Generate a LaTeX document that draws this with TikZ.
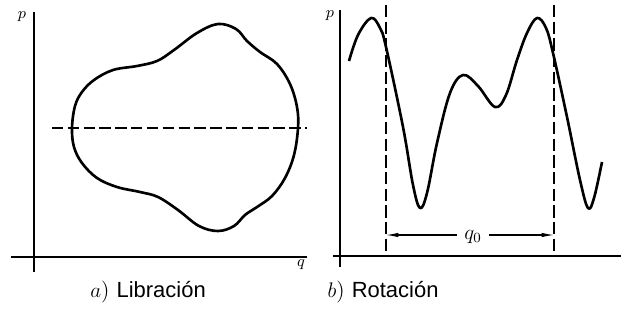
\documentclass[tikz,border=0pt]{standalone}
\usepackage{fontspec}
\newfontfamily\capfont{Liberation Sans}
\usepackage{tikz}
\usetikzlibrary{arrows.meta, positioning}

\begin{document}
\begin{tikzpicture}[x=0.02cm, y=-0.02cm,
    achse/.style={line width=0.8pt},
    kurve/.style={line width=1.5pt, line join=round},
    trenn/.style={line width=0.6pt, dash pattern=on 7pt off 2.5pt},
    lab/.style={font=\small, inner sep=1pt},
    capt/.style={font=\fontsize{12.5}{15}\selectfont}]
  \useasboundingbox (0,0) rectangle (621,328);
  % a) Libration
  \draw[achse] (34,12) -- (34,272);
  \draw[achse] (11,257) -- (307,257);
  \node[lab] (pa) at (22,17) {$p$};
  \node[lab] (qa) at (301,265) {$q$};
  \draw[kurve] plot[smooth cycle, tension=0.6] coordinates {
    (72,128) (75,106) (82,92) (94,80) (113,70) (137,66) (157,61) (174,50)
    (197,33) (218,24) (236,29) (247,41) (260,52) (277,64) (290,84) (297,107)
    (298,128) (294,155) (285,178) (272,196) (257,207) (245,215) (234,226)
    (218,231) (199,226) (178,210) (158,197) (140,192) (117,187) (97,178)
    (82,163) (74,147)};
  \draw[line width=0.7pt, dash pattern=on 6.5pt off 2.5pt] (52,128) -- (307,128); % Niveau
  \node[capt] (capa) at (148,292) {$a$) {\capfont Libración}};
  % b) Rotation
  \draw[achse] (340,10) -- (340,267);
  \draw[achse] (333,256) -- (621,256);
  \node[lab] (pb) at (330,16) {$p$};
  \draw[kurve] plot[smooth, tension=0.6] coordinates {
    (349,61) (358,35) (371,18) (380,28) (386,47) (403,127) (413,185) (420,208)
    (427,193) (437,143) (450,93) (463,75) (478,86) (495,107) (506,95) (517,60)
    (527,33) (537,18) (546,28) (553,53) (567,117) (580,180) (588,208) (594,198)
    (602,162)};
  \draw[trenn] (386,5) -- (386,256); % Periode
  \draw[trenn] (554,5) -- (554,256);
  \coordinate (ql) at (386,235);
  \coordinate (qr) at (554,235);
  \node[inner sep=4pt, font=\large] (q0) at (473,237) {$q_0$};
  \draw[line width=0.6pt, -{Latex[length=7pt,width=2.5pt]}] (q0.west |- ql) -- (ql);
  \draw[line width=0.6pt, -{Latex[length=7pt,width=2.5pt]}] (q0.east |- qr) -- (qr);
  \node[capt] (capb) at (383,292) {$b$) {\capfont Rotación}};
\end{tikzpicture}
\end{document}
